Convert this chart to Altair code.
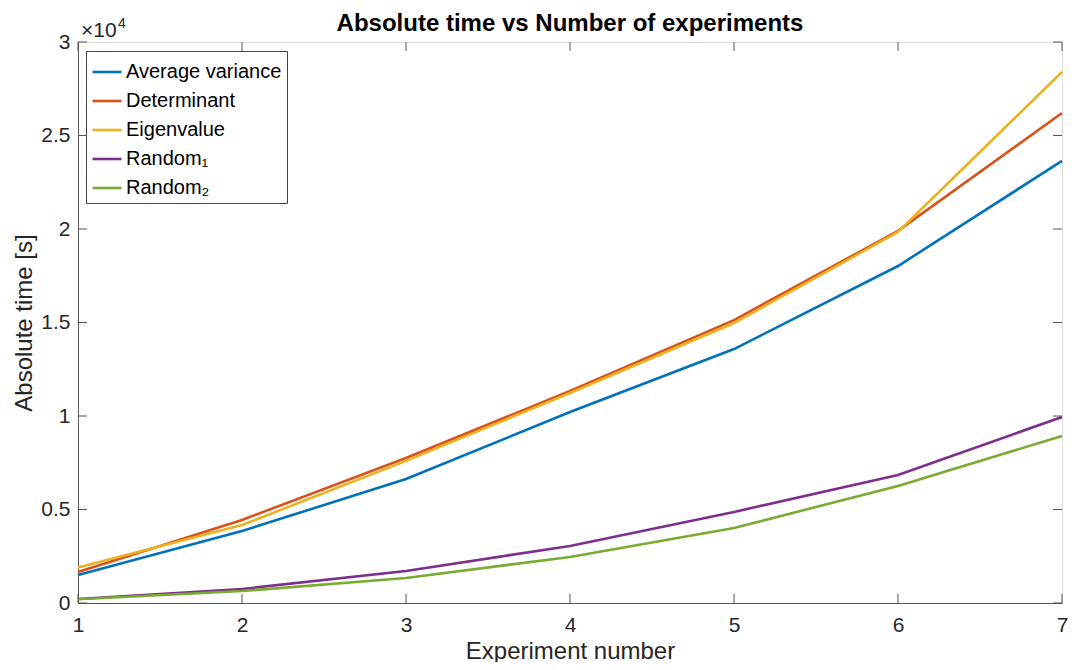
import altair as alt
import pandas as pd

experiments = [1, 2, 3, 4, 5, 6, 7]
avg_variance = [1500, 3850, 6630, 10210, 13580, 18020, 23640]
determinant = [1660, 4440, 7750, 11340, 15130, 19900, 26200]
eigenvalue = [1900, 4170, 7600, 11230, 14970, 19840, 28400]
random_1 = [210, 750, 1710, 3050, 4870, 6840, 9950]
random_2 = [200, 640, 1340, 2460, 4010, 6260, 8930]

series_names = ["Average variance", "Determinant", "Eigenvalue", "Random\u2081", "Random\u2082"]
series_values = [avg_variance, determinant, eigenvalue, random_1, random_2]
series_colors = ["#0072BD", "#D95319", "#EDB120", "#7E2F8E", "#77AC30"]

x_ticks = [1, 2, 3, 4, 5, 6, 7]
y_ticks = [0, 5000, 10000, 15000, 20000, 25000, 30000]
title_text = "Absolute time vs Number of experiments"

rows = []
for name, vals in zip(series_names, series_values):
    for e, v in zip(experiments, vals):
        rows.append({"Experiment": e, "Time": v, "Series": name})
df = pd.DataFrame(rows)
xt = pd.DataFrame({"Experiment": x_ticks})
yt = pd.DataFrame({"Time": y_ticks})

W, H = 984, 561
FONT = "Liberation Sans"
AX = "#555555"
TL = 9

xscale = alt.Scale(domain=[1, 7], nice=False, zero=False)
yscale = alt.Scale(domain=[0, 30000], nice=False)

x_axis = alt.Axis(title="Experiment number", values=x_ticks, format="d",
                  ticks=False, grid=False, domainColor=AX, labelFontSize=21,
                  labelColor="#262626", labelFont=FONT, labelPadding=11,
                  labelFlush=False,
                  titleFont=FONT, titleFontSize=24, titleFontWeight="normal",
                  titleColor="#262626", titleY=55, titleBaseline="alphabetic")
y_axis = alt.Axis(title="Absolute time [s]", values=y_ticks,
                  labelExpr="datum.value / 10000",
                  ticks=False, grid=False, domainColor=AX, labelFontSize=21,
                  labelColor="#262626", labelFont=FONT, labelPadding=8,
                  labelFlush=False,
                  titleFont=FONT, titleFontSize=24, titleFontWeight="normal",
                  titleColor="#262626", titleX=-47, titleY=H / 2,
                  titleBaseline="alphabetic", titleAlign="center")

X = alt.X("Experiment:Q", scale=xscale, axis=x_axis)
Y = alt.Y("Time:Q", scale=yscale, axis=y_axis)

lines = alt.Chart(df).mark_line(strokeWidth=2.6).encode(
    x=X, y=Y,
    color=alt.Color("Series:N", sort=series_names,
                    scale=alt.Scale(domain=series_names, range=series_colors),
                    legend=alt.Legend(title=None, orient="none", legendX=8, legendY=9,
                                      symbolType="stroke", symbolSize=841,
                                      symbolStrokeWidth=2.6, labelFont=FONT,
                                      labelFontSize=20, labelColor="#000000",
                                      labelOffset=3, rowPadding=3, padding=5,
                                      fillColor="white", strokeColor="#444444")),
    order=alt.Order("Experiment:Q"),
)

xt_bottom = alt.Chart(xt).mark_rule(color=AX, strokeWidth=1).encode(
    x=X, y=alt.value(H), y2=alt.value(H - TL))
xt_top = alt.Chart(xt).mark_rule(color=AX, strokeWidth=1).encode(
    x=X, y=alt.value(0), y2=alt.value(TL))
yt_left = alt.Chart(yt).mark_rule(color=AX, strokeWidth=1).encode(
    y=Y, x=alt.value(0), x2=alt.value(TL))
yt_right = alt.Chart(yt).mark_rule(color=AX, strokeWidth=1).encode(
    y=Y, x=alt.value(W), x2=alt.value(W - TL))

exp_base = alt.Chart(pd.DataFrame({"t": ["\u00d710"]})).mark_text(
    align="left", baseline="alphabetic", font=FONT, fontSize=21, color="#262626"
).encode(text="t:N", x=alt.value(3), y=alt.value(-5))
exp_pow = alt.Chart(pd.DataFrame({"t": ["4"]})).mark_text(
    align="left", baseline="alphabetic", font=FONT, fontSize=14, color="#262626"
).encode(text="t:N", x=alt.value(40), y=alt.value(-14))
title_mark = alt.Chart(pd.DataFrame({"t": [title_text]})).mark_text(
    align="center", baseline="alphabetic", font=FONT, fontSize=24, fontWeight="bold",
    color="#000000"
).encode(text="t:N", x=alt.value(W / 2), y=alt.value(-11))

chart = alt.layer(lines, xt_bottom, xt_top, yt_left, yt_right,
                  exp_base, exp_pow, title_mark).properties(
    width=W, height=H,
    autosize=alt.AutoSizeParams(type="none"),
    padding={"left": 70, "top": 34, "right": 10, "bottom": 59},
).configure_view(stroke=AX, strokeWidth=1).configure(background="white")

chart.save("out.html", embed_options={"renderer": "svg", "actions": False})
